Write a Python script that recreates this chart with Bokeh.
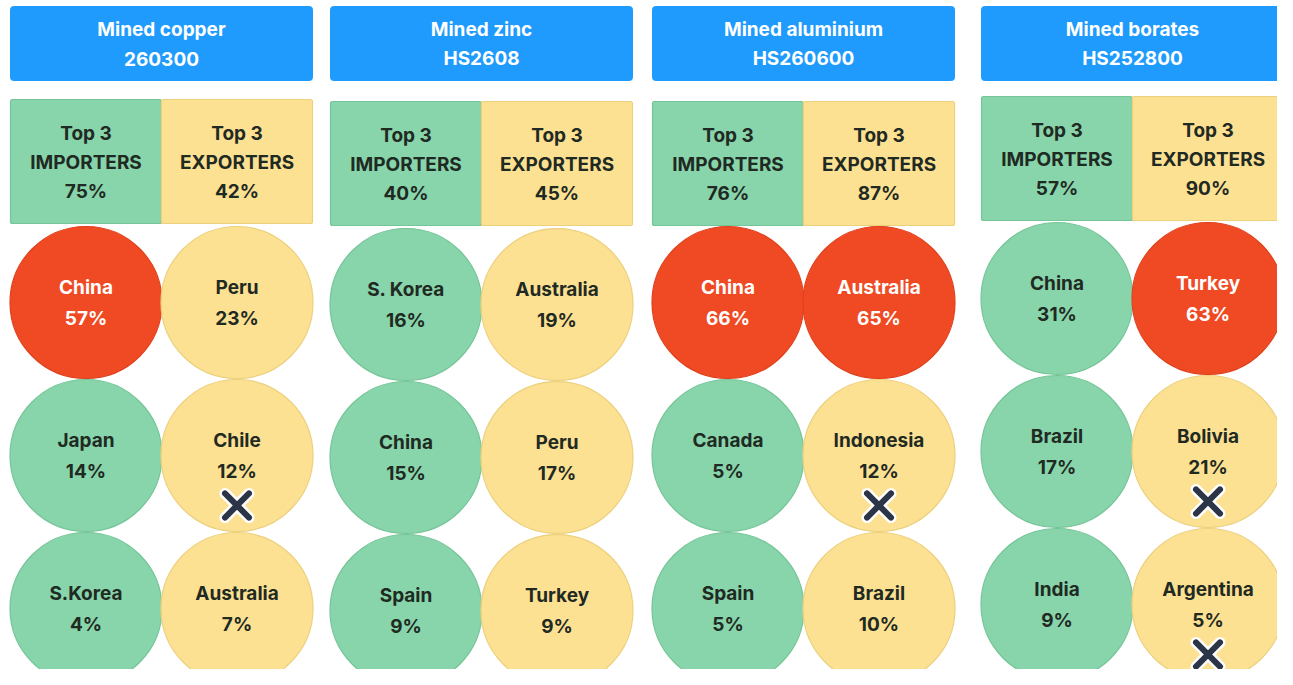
from bokeh.plotting import figure
from bokeh.models import ColumnDataSource, Range1d
from bokeh.core.properties import value
from bokeh.embed import file_html
from bokeh.resources import INLINE

# ---------------- data ----------------
minerals = ["Mined copper", "Mined zinc", "Mined aluminium", "Mined borates"]
codes = ["260300", "HS2608", "HS260600", "HS252800"]
top3_importers = [75, 40, 76, 57]
top3_exporters = [42, 45, 87, 90]
importers = [["China", "Japan", "S.Korea"],
             ["S. Korea", "China", "Spain"],
             ["China", "Canada", "Spain"],
             ["China", "Brazil", "India"]]
importer_shares = [[57, 14, 4], [16, 15, 9], [66, 5, 5], [31, 17, 9]]
exporters = [["Peru", "Chile", "Australia"],
             ["Australia", "Peru", "Turkey"],
             ["Australia", "Indonesia", "Brazil"],
             ["Turkey", "Bolivia", "Argentina"]]
exporter_shares = [[23, 12, 7], [19, 17, 9], [65, 12, 10], [63, 21, 5]]
exporter_crossed = [[False, True, False], [False, False, False],
                    [False, True, False], [False, True, True]]

# ---------------- layout / style ----------------
col_left = [10, 330, 652, 981]
col_w = 302
head_top, head_bot = 6, 80
box_top = [99, 101, 101, 96]
box_h = 124
circ_y0 = [302, 304, 302, 298]
circ_dy = 153
R = 76

BLUE = "#1e9bfd"
GREEN = "#88d4ab"
GREEN_LINE = "#74c597"
YELLOW = "#fde193"
YELLOW_LINE = "#ecd07c"
RED = "#ef4a23"
RED_LINE = "#e0401c"
DARK = "#1f2a22"
FONT = "Inter"
FS = "19px"

p = figure(width=1277, height=669, output_backend="svg", toolbar_location=None,
           x_range=Range1d(0, 1277), y_range=Range1d(669, 0),
           min_border=0, outline_line_color=None, background_fill_color="white")
p.axis.visible = False
p.grid.visible = False

def label(x, y, t, color, source=None):
    kw = dict(text_color=color, text_font=value(FONT), text_font_style="bold",
              text_font_size=FS, text_align="center", text_baseline="middle")
    if source is not None:
        p.text(x=x, y=y, text=t, source=source, **kw)
    else:
        p.text(x=x, y=y, text=t, **kw)

# headers
hl = [col_left[c] for c in range(4)]
hr = [col_left[c] + col_w for c in range(4)]
p.quad(left=hl, right=hr, top=[head_top] * 4, bottom=[head_bot] * 4,
       fill_color=BLUE, line_color=BLUE, border_radius=3)
hx = [col_left[c] + col_w / 2 for c in range(4)]
label(hx, [head_top + 23] * 4, minerals, "white")
label(hx, [head_top + 52] * 4, codes, "white")

# top-3 boxes
half = col_w / 2
for side, (fill, line, lab, vals) in enumerate([
        (GREEN, GREEN_LINE, "IMPORTERS", top3_importers),
        (YELLOW, YELLOW_LINE, "EXPORTERS", top3_exporters)]):
    L = [col_left[c] + side * half for c in range(4)]
    Rr = [l + half for l in L]
    T = [box_top[c] for c in range(4)]
    B = [box_top[c] + box_h for c in range(4)]
    p.quad(left=L, right=Rr, top=T, bottom=B, fill_color=fill, line_color=line,
           line_width=1.2, border_radius=2)
    cx = [l + half / 2 for l in L]
    for k, txt in enumerate([["Top 3"] * 4, [lab] * 4, [f"{v}%" for v in vals]]):
        label(cx, [box_top[c] + 34 + 29 * k for c in range(4)], txt, DARK)

# circles
xs, ys, fills, lines, names, pcts, tcols = [], [], [], [], [], [], []
cross_x, cross_y = [], []
for c in range(4):
    for side, (nm, sh, base, base_line) in enumerate([
            (importers[c], importer_shares[c], GREEN, GREEN_LINE),
            (exporters[c], exporter_shares[c], YELLOW, YELLOW_LINE)]):
        for r in range(3):
            x = col_left[c] + side * half + half / 2
            y = circ_y0[c] + r * circ_dy
            big = sh[r] > 50
            xs.append(x); ys.append(y)
            fills.append(RED if big else base)
            lines.append(RED_LINE if big else base_line)
            names.append(nm[r]); pcts.append(f"{sh[r]}%")
            tcols.append("white" if big else DARK)
            if side == 1 and exporter_crossed[c][r]:
                cross_x.append(x); cross_y.append(y + 50)

src = ColumnDataSource(dict(x=xs, y=ys, fill=fills, line=lines, name=names,
                            pct=pcts, tcol=tcols,
                            yn=[y - 15 for y in ys], yp=[y + 16 for y in ys]))
p.circle(x="x", y="y", radius=R, fill_color="fill", line_color="line",
         line_width=1.2, source=src)
label("x", "yn", "name", "tcol", source=src)
label("x", "yp", "pct", "tcol", source=src)

# cross marks
p.scatter(x=cross_x, y=cross_y, marker="x", size=34, line_color="white",
          line_width=11, line_cap="round")
p.scatter(x=cross_x, y=cross_y, marker="x", size=34, line_color="#2c3547",
          line_width=6, line_cap="round")

open("out.html", "w").write(file_html(p, INLINE))
